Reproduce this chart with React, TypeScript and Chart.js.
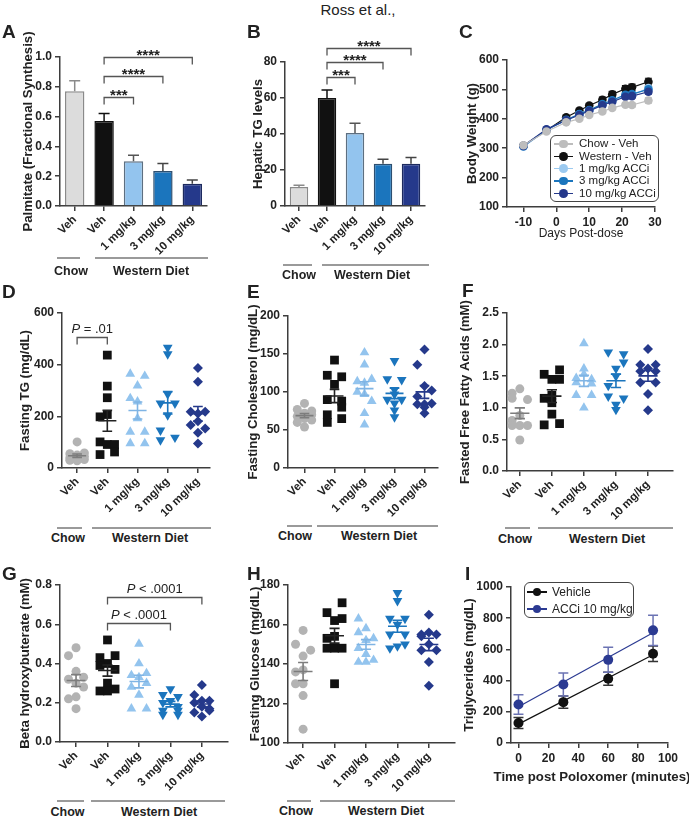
import React, { useEffect, useRef } from "react";
import { Chart, registerables } from "chart.js";

Chart.register(...registerables);

const FONT = '"Liberation Sans", Arial, Helvetica, sans-serif';
Chart.defaults.font.family = FONT;
Chart.defaults.color = "#222222";

const INK = "#222222";
const AXIS = "#3d3d3d";
const GROUP_LINE = "#9a9a9a";
const JSTEP = 0.24;

/* ---------- categories & tick labels ---------- */
const groupLabels = ["Veh", "Veh", "1 mg/kg", "3 mg/kg", "10 mg/kg"];
const dietLabels = ["Chow", "Western Diet"];
const bwLegend = ["Chow - Veh", "Western - Veh", "1 mg/kg ACCi", "3 mg/kg ACCi", "10 mg/kg ACCi"];
const poloxLegend = ["Vehicle", "ACCi 10 mg/kg"];
const poloxXTitle = "Time post Poloxomer (minutes)";

/* ---------- A: palmitate ---------- */
const palmitateMean = [0.77, 0.57, 0.3, 0.235, 0.15];
const palmitateSEM = [0.07, 0.05, 0.04, 0.05, 0.025];
const palmitateBrackets = [
  { from: 1, to: 2, at: 0.73, label: "***" },
  { from: 1, to: 3, at: 0.872, label: "****" },
  { from: 1, to: 4, at: 1.0, label: "****" },
];

/* ---------- B: hepatic TG ---------- */
const hepaticMean = [10.5, 60, 40.5, 23.5, 23.5];
const hepaticSEM = [1, 4.5, 5.5, 2.5, 3.5];
const hepaticBrackets = [
  { from: 1, to: 2, at: 71.7, label: "***" },
  { from: 1, to: 3, at: 80, label: "****" },
  { from: 1, to: 4, at: 87.8, label: "****" },
];

/* ---------- C: body weight ---------- */
const bwDays = [-10, -3, 3, 7, 10, 14, 17, 21, 23, 28];
const bwChow = [310, 357, 388, 400, 413, 425, 437, 448, 447, 462];
const bwChowSEM = [5, 5, 5, 5, 5, 6, 6, 7, 7, 9];
const bwWestern = [308, 360, 405, 428, 445, 465, 483, 502, 507, 526];
const bwWesternSEM = [5, 5, 6, 6, 7, 9, 10, 11, 11, 12];
const bw1 = [305, 362, 395, 415, 428, 447, 460, 478, 480, 505];
const bw3 = [307, 363, 397, 416, 430, 450, 463, 482, 484, 500];
const bw10 = [308, 364, 395, 413, 427, 446, 458, 475, 477, 492];
const bwSEMsmall = [4, 4, 5, 5, 5, 6, 6, 7, 7, 8];

/* ---------- D: fasting TG ---------- */
const tgChow = [101, 58, 55, 50, 45, 40, 36, 33, 30, 28];
const tgWestern = [437, 317, 272, 207, 198, 101, 91, 91, 62, 52];
const tg1 = [364, 356, 319, 270, 257, 192, 140, 140, 95, 95];
const tg3 = [466, 441, 286, 250, 250, 205, 146, 118, 108];
const tg10 = [387, 334, 218, 211, 218, 181, 166, 153, 136, 95];
const tgJitter = [
  [0, 1, -1, 0, 1, -1, 0, 1, -1, 0],
  [0, 0, 0, 0, -1, -1, 0, 1, 1, -1],
  [-1, 1, 0, -1, 0, 0, -1, 1, -1, 1],
  [0, 0, 0, -1, 1, 0, -1, 1, -1],
  [0, 0, -1, 0, 1, 0, -1, 1, 0, 0],
];
const tgBrackets = [{ from: 0, to: 1, at: 507, label: "P = .01" }];

/* ---------- E: fasting cholesterol ---------- */
const cholChow = [85, 77, 75, 72, 70, 68, 65, 63, 60, 54];
const cholWestern = [142, 122, 120, 110, 90, 88, 80, 70, 65, 60];
const chol1 = [152, 136, 117, 114, 112, 100, 97, 88, 72, 57];
const chol3 = [141, 117, 116, 103, 97, 90, 90, 85, 76, 67];
const chol10 = [156, 136, 108, 102, 94, 85, 84, 84, 80, 72];
const cholJitter = [
  [0, -1, 1, 0, 1, -1, 0, 1, -1, 0],
  [0, -1, 1, 0, -1, 1, 1, -1, 1, -1],
  [0, 0, 1, -1, 0, -1, 0, 1, 0, 0],
  [0, -1, 1, 0, 0, -1, 1, 0, 0, 0],
  [0, -1, 0, 1, -1, 1, -1, 0, 0, 0],
];

/* ---------- F: fasted free fatty acids ---------- */
const ffaChow = [1.3, 1.23, 1.15, 1.13, 0.88, 0.8, 0.72, 0.72, 0.72, 0.49];
const ffaWestern = [1.6, 1.53, 1.45, 1.45, 1.2, 1.15, 1.08, 0.9, 0.75, 0.73];
const ffa1 = [2.02, 1.62, 1.53, 1.47, 1.45, 1.4, 1.38, 1.2, 1.2, 1.0];
const ffa3 = [1.88, 1.85, 1.72, 1.62, 1.5, 1.35, 1.18, 1.15, 1.05, 0.97];
const ffa10 = [1.93, 1.68, 1.68, 1.62, 1.58, 1.58, 1.4, 1.4, 1.22, 0.96];
const ffaJitter = [
  [0, -1, -1, 1, 0, -1, -1, 0, 1, 0],
  [1, -1, 0, 1, 0, -1, 0, 0, 1, -1],
  [0, 0, 0, -1, 1, -1, 1, -1, 1, 0],
  [-1, 1, 1, 0, 0, -1, -1, 1, 0, 0],
  [0, -1, 1, 0, -1, 1, -1, 1, 0, 0],
];

/* ---------- G: beta hydroxybutyrate ---------- */
const bhbChow = [0.48, 0.44, 0.36, 0.33, 0.32, 0.3, 0.28, 0.23, 0.22, 0.17];
const bhbWestern = [0.52, 0.44, 0.43, 0.4, 0.39, 0.37, 0.3, 0.27, 0.26, 0.26];
const bhb1 = [0.5, 0.4, 0.35, 0.34, 0.33, 0.3, 0.28, 0.24, 0.17, 0.17];
const bhb3 = [0.27, 0.24, 0.23, 0.21, 0.2, 0.18, 0.16, 0.16, 0.14, 0.14];
const bhb10 = [0.29, 0.24, 0.21, 0.21, 0.2, 0.18, 0.17, 0.16, 0.15, 0.13];
const bhbJitter = [
  [0, -1, 0, 1, -1, 0, 1, 0, -1, 0],
  [0, 1, -1, 0, -1, 1, 0, 1, -1, 0],
  [0, 0, 1, -1, 0, 1, -1, 0, -1, 1],
  [0, -1, 1, 0, -1, 1, -1, 1, -1, 1],
  [0, -1, 1, 0, -1, 0, 1, 1, -1, 0],
];
const bhbBrackets = [
  { from: 1, to: 3, at: 0.606, label: "P < .0001" },
  { from: 1, to: 4, at: 0.739, label: "P < .0001" },
];

/* ---------- H: fasting glucose ---------- */
const gluChow = [157, 150, 147, 144, 137, 136, 130, 130, 124, 107];
const gluWestern = [171, 166, 163, 162, 154, 153, 148, 148, 148, 130];
const glu1 = [163, 158, 156, 153, 152, 148, 145, 142, 141, 141];
const glu3 = [176, 172, 163, 163, 160, 155, 155, 150, 149, 148];
const glu10 = [165, 156, 155, 155, 154, 150, 147, 147, 141, 129];
const gluJitter = [
  [0, -1, 1, 0, 0, -1, -1, 0, 0, 0],
  [1, -1, 1, 0, 0, -1, -1, 0, 1, 0],
  [-1, 0, -1, 1, 0, -1, 0, 1, -1, 0],
  [0, 0, -1, 1, 0, -1, 1, 1, 0, -1],
  [0, 0, -1, 1, -1, 0, -1, 1, 0, 0],
];

/* ---------- I: poloxamer TG ---------- */
const poloxTime = [0, 30, 60, 90];
const poloxVehicle = [128, 262, 412, 572];
const poloxVehicleSEM = [35, 40, 42, 50];
const poloxACCi = [247, 375, 533, 722];
const poloxACCiSEM = [62, 73, 80, 97];

/* ---------- styles ---------- */
const groupColors = ["#b3b3b3", "#111111", "#93c4ee", "#1b75bd", "#25398b"];
const barFills = ["#dcdcdc", "#111111", "#93c4ee", "#1b75bd", "#25398b"];
const barBorders = ["#8a8a8a", "#111111", "#5d6f80", "#2d4f70", "#1d2a5e"];
const barErr = ["#8a8a8a", "#111111", "#555555", "#444444", "#444444"];
const meanColors = ["#7d7d7d", "#222222", "#7fb4e4", "#1b75bd", "#25398b"];
const shapes = ["circle", "rect", "triangle", "triangle", "rectRot"];
const shapeRot = [0, 0, 0, 180, 0];
const shapeRadius = [4.5, 6.2, 5.6, 5.6, 5];
const bwColors = ["#bdbdbd", "#111111", "#9ccaf0", "#1b75bd", "#25398b"];
const VEH_COLOR = "#111111";
const ACCI_COLOR = "#2b3a92";

/* ---------- plugins ---------- */
function drawErrors(chart: any, after: boolean) {
  const ctx = chart.ctx;
  chart.data.datasets.forEach((ds: any, di: number) => {
    if (!ds.errors || !!ds.errorsOnTop !== after) return;
    const meta = chart.getDatasetMeta(di);
    const ys = chart.scales[meta.yAxisID];
    meta.data.forEach((el: any, i: number) => {
      const raw = ds.data[i];
      const v = typeof raw === "number" ? raw : raw.y;
      const e = ds.errors[i];
      if (!e) return;
      const x = el.x;
      const top = ys.getPixelForValue(v + e);
      const bottom = ds.errorsUpOnly ? el.y : ys.getPixelForValue(v - e);
      const cap = ds.errorCap ?? 4;
      ctx.save();
      ctx.strokeStyle = Array.isArray(ds.errorColor) ? ds.errorColor[i] : ds.errorColor;
      ctx.lineWidth = ds.errorWidth ?? 1.5;
      ctx.beginPath();
      ctx.moveTo(x, bottom);
      ctx.lineTo(x, top);
      ctx.moveTo(x - cap, top);
      ctx.lineTo(x + cap, top);
      if (!ds.errorsUpOnly) {
        ctx.moveTo(x - cap, bottom);
        ctx.lineTo(x + cap, bottom);
      }
      ctx.stroke();
      ctx.restore();
    });
  });
}
const errorBarPlugin = {
  id: "errorBars",
  beforeDatasetsDraw(chart: any) {
    drawErrors(chart, false);
  },
  afterDatasetsDraw(chart: any) {
    drawErrors(chart, true);
  },
};

const meanSemPlugin = {
  id: "meanSem",
  afterDatasetsDraw(chart: any) {
    const { ctx } = chart;
    const xs = chart.scales.x;
    const ys = chart.scales.y;
    chart.data.datasets.forEach((ds: any) => {
      if (ds.meanColor == null) return;
      const vals = ds.data.map((p: any) => p.y);
      const n = vals.length;
      const mean = vals.reduce((a: number, b: number) => a + b, 0) / n;
      const sd = Math.sqrt(vals.reduce((a: number, b: number) => a + (b - mean) * (b - mean), 0) / (n - 1));
      const sem = sd / Math.sqrt(n);
      const g = ds.group;
      const ym = ys.getPixelForValue(mean);
      const yt = ys.getPixelForValue(mean + sem);
      const yb = ys.getPixelForValue(mean - sem);
      ctx.save();
      ctx.strokeStyle = ds.meanColor;
      ctx.lineWidth = 1.6;
      ctx.beginPath();
      ctx.moveTo(xs.getPixelForValue(g - 0.3), ym);
      ctx.lineTo(xs.getPixelForValue(g + 0.3), ym);
      const x0 = xs.getPixelForValue(g);
      ctx.moveTo(x0, yt);
      ctx.lineTo(x0, yb);
      ctx.moveTo(xs.getPixelForValue(g - 0.16), yt);
      ctx.lineTo(xs.getPixelForValue(g + 0.16), yt);
      ctx.moveTo(xs.getPixelForValue(g - 0.16), yb);
      ctx.lineTo(xs.getPixelForValue(g + 0.16), yb);
      ctx.stroke();
      ctx.restore();
    });
  },
};

function bracketPlugin(items: { from: number; to: number; at: number; label: string }[]) {
  return {
    id: "brackets",
    afterDraw(chart: any) {
      const { ctx } = chart;
      const xs = chart.scales.x;
      const ys = chart.scales.y;
      ctx.save();
      items.forEach((it) => {
        const xa = xs.getPixelForValue(it.from);
        const xb = xs.getPixelForValue(it.to);
        const y = Math.round(ys.getPixelForValue(it.at)) + 0.5;
        ctx.strokeStyle = "#555555";
        ctx.lineWidth = 1.3;
        ctx.beginPath();
        ctx.moveTo(xa, y + 7);
        ctx.lineTo(xa, y);
        ctx.lineTo(xb, y);
        ctx.lineTo(xb, y + 7);
        ctx.stroke();
        ctx.fillStyle = "#222222";
        ctx.textBaseline = "alphabetic";
        const cx = (xa + xb) / 2;
        if (it.label.startsWith("P ")) {
          const rest = it.label.slice(1);
          const fi = `italic 13px ${FONT}`;
          const fn = `13px ${FONT}`;
          ctx.font = fi;
          const wP = ctx.measureText("P").width;
          ctx.font = fn;
          const wR = ctx.measureText(rest).width;
          const x0 = cx - (wP + wR) / 2;
          ctx.textAlign = "left";
          ctx.font = fi;
          ctx.fillText("P", x0, y - 5);
          ctx.font = fn;
          ctx.fillText(rest, x0 + wP, y - 5);
        } else {
          ctx.font = `bold 15px ${FONT}`;
          ctx.textAlign = "center";
          ctx.fillText(it.label, cx, y + 2);
        }
      });
      ctx.restore();
    },
  };
}

/* ---------- helpers ---------- */
type Box = { x: number; y: number; w: number; h: number };
type Area = { l: number; t: number; r: number; b: number };

const Y_TITLE = 13.2;

function base() {
  return {
    responsive: false,
    maintainAspectRatio: false,
    animation: false,
    devicePixelRatio: 1,
    events: [],
    plugins: { legend: { display: false }, tooltip: { enabled: false } },
  };
}

function axisGrid() {
  return { display: true, drawOnChartArea: false, drawTicks: true, tickLength: 5, color: AXIS, lineWidth: 1.5, offset: false };
}
function axisBorder() {
  return { display: true, color: AXIS, width: 1.5 };
}

function yAxis(min: number, max: number, step: number, title: string, dec: number) {
  return {
    type: "linear",
    min,
    max,
    ticks: { stepSize: step, color: INK, padding: 3, font: { size: 12, weight: "bold" }, callback: (v: any) => Number(v).toFixed(dec) },
    grid: axisGrid(),
    border: axisBorder(),
    title: { display: true, text: title, color: INK, padding: 0, font: { size: Y_TITLE, weight: "bold" } },
  };
}

function rotatedTicks() {
  return { color: INK, padding: 2, autoSkip: false, minRotation: 45, maxRotation: 45, font: { size: 11.5, weight: "bold" } };
}

function catX() {
  return { type: "category", offset: true, grid: axisGrid(), border: axisBorder(), ticks: rotatedTicks() };
}

function groupX(min: number, max: number) {
  return {
    type: "linear",
    min,
    max,
    afterBuildTicks: (s: any) => {
      s.ticks = groupLabels.map((_, i) => ({ value: i }));
    },
    grid: axisGrid(),
    border: axisBorder(),
    ticks: { ...rotatedTicks(), callback: (v: any) => groupLabels[Math.round(v)] ?? "" },
  };
}

function frame(cfg: any, box: Box, area: Area, yTitleX: number, xTitleY?: number, xTitleSize?: number) {
  const padL = yTitleX - box.x - (Y_TITLE * 1.2) / 2;
  const padB = xTitleY != null ? box.y + box.h - xTitleY - ((xTitleSize || 12) * 1.2) / 2 : 0;
  cfg.options.layout = {
    padding: { left: padL, top: area.t - box.y, right: box.x + box.w - area.r, bottom: padB },
  };
  cfg.options.scales.y.afterFit = (s: any) => {
    s.width = area.l - box.x - padL;
  };
  cfg.options.scales.x.afterFit = (s: any) => {
    s.height = box.y + box.h - padB - area.b;
  };
  return cfg;
}

function barConfig(means: number[], sems: number[], yMax: number, step: number, title: string, dec: number, brackets: any[]) {
  return {
    type: "bar",
    data: {
      labels: groupLabels,
      datasets: [
        {
          data: means,
          errors: sems,
          errorsUpOnly: true,
          errorsOnTop: true,
          errorCap: 5.5,
          errorColor: barErr,
          backgroundColor: barFills,
          borderColor: barBorders,
          borderWidth: 1.5,
          barPercentage: 0.66,
          categoryPercentage: 1,
        },
      ],
    },
    options: { ...base(), scales: { x: catX(), y: yAxis(0, yMax, step, title, dec) } },
    plugins: [errorBarPlugin, bracketPlugin(brackets)],
  };
}

function dotConfig(groups: number[][], jitter: number[][], xmin: number, xmax: number, ymin: number, ymax: number, step: number, title: string, dec: number, brackets: any[]) {
  return {
    type: "scatter",
    data: {
      datasets: groups.map((vals, gi) => ({
        data: vals.map((v, k) => ({ x: gi + jitter[gi][k] * JSTEP, y: v })),
        pointStyle: shapes[gi],
        rotation: shapeRot[gi],
        pointRadius: shapeRadius[gi],
        backgroundColor: groupColors[gi],
        borderColor: groupColors[gi],
        borderWidth: 0,
        meanColor: meanColors[gi],
        group: gi,
      })),
    },
    options: { ...base(), scales: { x: groupX(xmin, xmax), y: yAxis(ymin, ymax, step, title, dec) } },
    plugins: [meanSemPlugin, bracketPlugin(brackets)],
  };
}

function linFit(xs: number[], ys: number[]) {
  const n = xs.length;
  const mx = xs.reduce((a, b) => a + b, 0) / n;
  const my = ys.reduce((a, b) => a + b, 0) / n;
  let sxy = 0;
  let sxx = 0;
  for (let i = 0; i < n; i++) {
    sxy += (xs[i] - mx) * (ys[i] - my);
    sxx += (xs[i] - mx) * (xs[i] - mx);
  }
  const m = sxy / sxx;
  return { m, b: my - m * mx };
}

/* ---------- panel configs ---------- */
const boxA: Box = { x: 0, y: 25, w: 222, h: 233 };
const areaA: Area = { l: 60, t: 57, r: 207, b: 206 };
const boxB: Box = { x: 225, y: 25, w: 222, h: 238 };
const areaB: Area = { l: 285, t: 62, r: 425, b: 206 };
const boxC: Box = { x: 450, y: 40, w: 239, h: 205 };
const areaC: Area = { l: 507, t: 60, r: 655, b: 207 };
const boxD: Box = { x: 0, y: 282, w: 235, h: 243 };
const areaD: Area = { l: 62, t: 313, r: 210, b: 468 };
const boxE: Box = { x: 225, y: 282, w: 235, h: 243 };
const areaE: Area = { l: 288, t: 316, r: 438, b: 468 };
const boxF: Box = { x: 450, y: 280, w: 239, h: 245 };
const areaF: Area = { l: 507, t: 313, r: 673, b: 471 };
const boxG: Box = { x: 0, y: 562, w: 250, h: 236 };
const areaG: Area = { l: 60, t: 585, r: 228, b: 742 };
const boxH: Box = { x: 225, y: 562, w: 250, h: 236 };
const areaH: Area = { l: 288, t: 585, r: 455, b: 743 };
const boxI: Box = { x: 450, y: 562, w: 239, h: 205 };
const areaI: Area = { l: 511, t: 587, r: 668, b: 743 };

const makeA = () =>
  frame(barConfig(palmitateMean, palmitateSEM, 1, 0.2, "Palmitate (Fractional Synthesis)", 1, palmitateBrackets), boxA, areaA, 28);
const makeB = () => frame(barConfig(hepaticMean, hepaticSEM, 80, 20, "Hepatic TG levels", 0, hepaticBrackets), boxB, areaB, 258);

const makeC = () => {
  const series = [bwChow, bwWestern, bw1, bw3, bw10];
  const sems = [bwChowSEM, bwWesternSEM, bwSEMsmall, bwSEMsmall, bwSEMsmall];
  const order = [0, 4, 3, 2, 1];
  const cfg: any = {
    type: "line",
    data: {
      datasets: order.map((k) => ({
        data: bwDays.map((d, i) => ({ x: d, y: series[k][i] })),
        errors: sems[k],
        errorColor: bwColors[k],
        errorCap: 3.5,
        errorWidth: 1.2,
        borderColor: bwColors[k],
        backgroundColor: bwColors[k],
        borderWidth: 1.2,
        pointRadius: 4.3,
        pointBorderWidth: 0,
        tension: 0,
      })),
    },
    options: {
      ...base(),
      scales: {
        x: {
          type: "linear",
          min: -15,
          max: 30,
          afterBuildTicks: (s: any) => {
            s.ticks = [-10, 0, 10, 20, 30].map((v) => ({ value: v }));
          },
          grid: axisGrid(),
          border: axisBorder(),
          ticks: { color: INK, padding: 3, maxRotation: 0, font: { size: 12, weight: "bold" } },
          title: { display: true, text: "Days Post-dose", color: INK, padding: 0, font: { size: 12 } },
        },
        y: yAxis(100, 600, 100, "Body Weight (g)", 0),
      },
    },
    plugins: [errorBarPlugin],
  };
  return frame(cfg, boxC, areaC, 472, 234, 12);
};

const makeD = () =>
  frame(
    dotConfig([tgChow, tgWestern, tg1, tg3, tg10], tgJitter, -0.5, 4.4, 0, 600, 200, "Fasting TG (mg/dL)", 0, tgBrackets),
    boxD,
    areaD,
    25
  );
const makeE = () =>
  frame(
    dotConfig([cholChow, cholWestern, chol1, chol3, chol10], cholJitter, -0.55, 4.45, 0, 200, 50, "Fasting Cholesterol (mg/dL)", 0, []),
    boxE,
    areaE,
    253
  );
const makeF = () =>
  frame(
    dotConfig([ffaChow, ffaWestern, ffa1, ffa3, ffa10], ffaJitter, -0.4, 4.78, 0, 2.5, 0.5, "Fasted Free Fatty Acids (mM)", 1, []),
    boxF,
    areaF,
    465
  );
const makeG = () =>
  frame(
    dotConfig([bhbChow, bhbWestern, bhb1, bhb3, bhb10], bhbJitter, -0.51, 4.83, 0, 0.8, 0.2, "Beta hydroxybuterate (mM)", 1, bhbBrackets),
    boxG,
    areaG,
    25
  );
const makeH = () =>
  frame(
    dotConfig([gluChow, gluWestern, glu1, glu3, glu10], gluJitter, -0.48, 4.83, 100, 180, 20, "Fasting Glucose (mg/dL)", 0, []),
    boxH,
    areaH,
    255
  );

const makeI = () => {
  const fv = linFit(poloxTime, poloxVehicle);
  const fa = linFit(poloxTime, poloxACCi);
  const t0 = poloxTime[0];
  const t1 = poloxTime[poloxTime.length - 1];
  const fitLine = (f: { m: number; b: number }, color: string) => ({
    data: [
      { x: t0, y: f.b + f.m * t0 },
      { x: t1, y: f.b + f.m * t1 },
    ],
    borderColor: color,
    borderWidth: 1.2,
    pointRadius: 0,
    showLine: true,
  });
  const pts = (vals: number[], sems: number[], color: string, errColor: string) => ({
    data: poloxTime.map((t, i) => ({ x: t, y: vals[i] })),
    errors: sems,
    errorColor: errColor,
    errorCap: 5,
    errorWidth: 1.5,
    showLine: false,
    pointRadius: 5,
    pointBorderWidth: 0,
    backgroundColor: color,
    borderColor: color,
  });
  const cfg: any = {
    type: "scatter",
    data: {
      datasets: [
        fitLine(fv, VEH_COLOR),
        fitLine(fa, ACCI_COLOR),
        pts(poloxVehicle, poloxVehicleSEM, VEH_COLOR, "#333333"),
        pts(poloxACCi, poloxACCiSEM, ACCI_COLOR, "#6b73b3"),
      ],
    },
    options: {
      ...base(),
      scales: {
        x: {
          type: "linear",
          min: -5,
          max: 100,
          afterBuildTicks: (s: any) => {
            s.ticks = [0, 20, 40, 60, 80, 100].map((v) => ({ value: v }));
          },
          grid: axisGrid(),
          border: axisBorder(),
          ticks: { color: INK, padding: 3, maxRotation: 0, font: { size: 12, weight: "bold" } },
        },
        y: yAxis(0, 1000, 200, "Triglycerides (mg/dL)", 0),
      },
    },
    plugins: [errorBarPlugin],
  };
  return frame(cfg, boxI, areaI, 469);
};

/* ---------- React pieces ---------- */
function ChartCanvas({ box, make }: { box: Box; make: () => any }) {
  const ref = useRef<HTMLCanvasElement | null>(null);
  useEffect(() => {
    const chart = new Chart(ref.current as HTMLCanvasElement, make());
    return () => chart.destroy();
  }, []);
  return (
    <canvas
      ref={ref}
      width={box.w}
      height={box.h}
      style={{ position: "absolute", left: box.x, top: box.y, width: box.w, height: box.h }}
    />
  );
}

function Txt({ x, y, size, bold, children, align = "center" }: any) {
  const w = 300;
  return (
    <div
      style={{
        position: "absolute",
        left: align === "center" ? x - w / 2 : x,
        top: y - size / 2,
        width: w,
        height: size,
        lineHeight: `${size}px`,
        fontSize: size,
        fontWeight: bold ? 700 : 400,
        fontFamily: FONT,
        color: INK,
        textAlign: align,
        whiteSpace: "nowrap",
      }}
    >
      {children}
    </div>
  );
}

function DietLabels({ lineY, chow, west, textY, chowX, westX }: any) {
  return (
    <>
      <div style={{ position: "absolute", left: chow[0], top: lineY - 1, width: chow[1] - chow[0], height: 2, background: GROUP_LINE }} />
      <div style={{ position: "absolute", left: west[0], top: lineY - 1, width: west[1] - west[0], height: 2, background: GROUP_LINE }} />
      <Txt x={chowX} y={textY} size={12.5} bold>
        {dietLabels[0]}
      </Txt>
      <Txt x={westX} y={textY} size={12.5} bold>
        {dietLabels[1]}
      </Txt>
    </>
  );
}

function LegendBox({ x, y, w, h, labels, colors, rowY, lineX, markX, textX, size }: any) {
  return (
    <div
      style={{
        position: "absolute",
        left: x,
        top: y,
        width: w,
        height: h,
        border: "1.5px solid #444",
        borderRadius: 6,
        boxSizing: "border-box",
        background: "#fff",
      }}
    >
      {labels.map((lab: string, i: number) => (
        <React.Fragment key={lab}>
          <div style={{ position: "absolute", left: lineX[0], top: rowY[i] - 0.75, width: lineX[1] - lineX[0], height: 1.5, background: colors[i] }} />
          <div style={{ position: "absolute", left: markX - 4.3, top: rowY[i] - 4.3, width: 8.6, height: 8.6, borderRadius: "50%", background: colors[i] }} />
          <div
            style={{
              position: "absolute",
              left: textX,
              top: rowY[i] - size / 2,
              lineHeight: `${size}px`,
              fontSize: size,
              fontFamily: FONT,
              color: INK,
              whiteSpace: "nowrap",
            }}
          >
            {lab}
          </div>
        </React.Fragment>
      ))}
    </div>
  );
}

export default function App() {
  return (
    <div style={{ position: "absolute", left: 0, top: 0, width: 689, height: 819, overflow: "hidden", background: "#fff" }}>
      <ChartCanvas box={boxA} make={makeA} />
      <ChartCanvas box={boxB} make={makeB} />
      <ChartCanvas box={boxC} make={makeC} />
      <ChartCanvas box={boxD} make={makeD} />
      <ChartCanvas box={boxE} make={makeE} />
      <ChartCanvas box={boxF} make={makeF} />
      <ChartCanvas box={boxG} make={makeG} />
      <ChartCanvas box={boxH} make={makeH} />
      <ChartCanvas box={boxI} make={makeI} />

      <Txt x={358} y={9} size={15}>
        Ross et al.,
      </Txt>

      <Txt x={2} y={31.5} size={19} bold align="left">A</Txt>
      <Txt x={247} y={31.5} size={19} bold align="left">B</Txt>
      <Txt x={459} y={31.5} size={19} bold align="left">C</Txt>
      <Txt x={2} y={291.5} size={19} bold align="left">D</Txt>
      <Txt x={247} y={291.5} size={19} bold align="left">E</Txt>
      <Txt x={462} y={290} size={19} bold align="left">F</Txt>
      <Txt x={2} y={573.5} size={19} bold align="left">G</Txt>
      <Txt x={247} y={573} size={19} bold align="left">H</Txt>
      <Txt x={465} y={573} size={19} bold align="left">I</Txt>

      <Txt x={592} y={777} size={13.2} bold>
        {poloxXTitle}
      </Txt>

      <DietLabels lineY={258} chow={[57, 80]} west={[95, 208]} textY={271} chowX={71} westX={151} />
      <DietLabels lineY={265} chow={[283, 312]} west={[322, 429]} textY={275} chowX={299} westX={372} />
      <DietLabels lineY={528} chow={[57, 82]} west={[92, 211]} textY={538} chowX={68} westX={150} />
      <DietLabels lineY={526} chow={[287, 312]} west={[317, 438]} textY={536} chowX={295} westX={379} />
      <DietLabels lineY={528} chow={[505, 530]} west={[538, 673]} textY={539} chowX={515} westX={607} />
      <DietLabels lineY={801} chow={[57, 84]} west={[91, 225]} textY={812} chowX={67.5} westX={159} />
      <DietLabels lineY={801} chow={[287, 311]} west={[320, 455]} textY={811} chowX={296} westX={386} />

      <LegendBox
        x={550}
        y={135}
        w={109}
        h={67}
        labels={bwLegend}
        colors={bwColors}
        rowY={[8, 20.5, 32.5, 45, 57.5]}
        lineX={[3, 22]}
        markX={12.5}
        textX={28}
        size={11.5}
      />
      <LegendBox
        x={524}
        y={582}
        w={110}
        h={36}
        labels={poloxLegend}
        colors={[VEH_COLOR, ACCI_COLOR]}
        rowY={[9, 26]}
        lineX={[2, 22]}
        markX={12}
        textX={27}
        size={12}
      />
    </div>
  );
}
